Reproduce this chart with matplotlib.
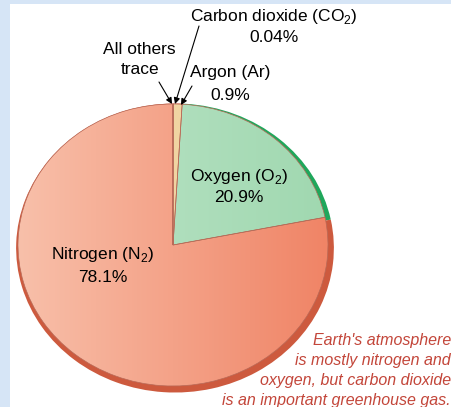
import numpy as np
import matplotlib
matplotlib.use("Agg")
from matplotlib import pyplot as plt
from matplotlib.patches import Rectangle
from matplotlib.colors import LinearSegmentedColormap

plt.rcParams["font.family"] = ["Liberation Sans", "DejaVu Sans"]
plt.rcParams["mathtext.fontset"] = "custom"
plt.rcParams["mathtext.rm"] = "Liberation Sans"

# gases, clockwise from the top of the pie
gases = ["Carbon dioxide", "Argon", "Oxygen", "Nitrogen", "All others"]
percent = [0.04, 0.9, 20.9, 78.1, 0.01]
face_colors = ["#d9b57f", "#f0d4a2", "#a8dbb7", "#f5a088", "#f6c2ac"]
rim_colors = ["#c8553a", "#c8553a", "#1fa75b", "#cd5a3e", "#cd5a3e"]
gradients = {"Oxygen": ["#bfe5ca", "#a0d8b0"], "Nitrogen": ["#f8c0aa", "#f08466"]}

W, H = 452, 407
fig = plt.figure(figsize=(W / 100, H / 100), dpi=100)
fig.patch.set_facecolor("#d6e5f6")

# white panel behind everything
bg = fig.add_axes([0, 0, 1, 1], zorder=-1)
bg.set_xlim(0, W)
bg.set_ylim(H, 0)
bg.axis("off")
bg.add_patch(Rectangle((10, 4), W, H, facecolor="white", edgecolor="none"))

# pie geometry in pixels
cx, cy, rx, ry = 173, 245, 155, 141
pad = 1.1
ax = fig.add_axes([(cx - pad * rx) / W, (H - cy - pad * ry) / H,
                   2 * pad * rx / W, 2 * pad * ry / H], zorder=1)

# darker side (3D rim) behind the face
rim, _ = ax.pie(percent, colors=rim_colors, startangle=90, counterclock=False,
                radius=1.025, center=(2 / rx, -3 / ry), wedgeprops=dict(linewidth=0))
faces, _ = ax.pie(percent, colors=face_colors, startangle=90, counterclock=False,
                  wedgeprops=dict(linewidth=0.5, edgecolor="#b86a58"))

for wedge, gas in zip(faces, gases):
    wedge.set_zorder(3)
    if gas in gradients:
        cmap = LinearSegmentedColormap.from_list(gas, gradients[gas])
        grad = np.linspace(0, 1, 256).reshape(1, -1)
        im = ax.imshow(grad, cmap=cmap, extent=(-1, 1, -1, 1), aspect="auto",
                       interpolation="bilinear", zorder=2)
        im.set_clip_path(wedge)
        wedge.set_facecolor("none")

ax.set_aspect("auto")
ax.set_xlim(-pad, pad)
ax.set_ylim(-pad, pad)
ax.axis("off")

# text layer in pixel coordinates
tx = fig.add_axes([0, 0, 1, 1], zorder=5)
tx.set_xlim(0, W)
tx.set_ylim(H, 0)
tx.axis("off")

fs = 12.5
arrow = dict(arrowstyle="-|>", color="black", lw=0.8, mutation_scale=9, shrinkA=0, shrinkB=0)
tx.text(274, 17, "Carbon dioxide (CO$_\\mathrm{2}$)", ha="center", va="center", fontsize=fs)
tx.text(274, 38, "0.04%", ha="center", va="center", fontsize=fs)
tx.text(139, 49, "All others", ha="center", va="center", fontsize=fs)
tx.text(140, 70, "trace", ha="center", va="center", fontsize=fs)
tx.text(230, 73, "Argon (Ar)", ha="center", va="center", fontsize=fs)
tx.text(230, 95, "0.9%", ha="center", va="center", fontsize=fs)
tx.text(239, 176, "Oxygen (O$_\\mathrm{2}$)", ha="center", va="center", fontsize=fs)
tx.text(239, 197, "20.9%", ha="center", va="center", fontsize=fs)
tx.text(103, 255, "Nitrogen (N$_\\mathrm{2}$)", ha="center", va="center", fontsize=fs)
tx.text(103, 277, "78.1%", ha="center", va="center", fontsize=fs)

tx.annotate("", xy=(172, 104), xytext=(159, 82), arrowprops=arrow)
tx.annotate("", xy=(175, 104), xytext=(199, 26), arrowprops=arrow)
tx.annotate("", xy=(181, 105), xytext=(192, 86), arrowprops=arrow)

caption = ["Earth's atmosphere", "is mostly nitrogen and",
           "oxygen, but carbon dioxide", "is an important greenhouse gas."]
for i, line in enumerate(caption):
    tx.text(451, 340 + i * 20.3, line, ha="right", va="center", fontsize=11.5,
            style="italic", color="#c3463a")

fig.savefig("out.png", dpi=100)
